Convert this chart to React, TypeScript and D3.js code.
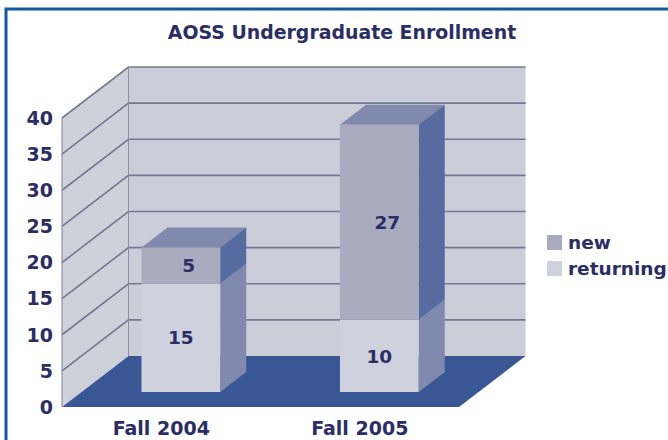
import React from "react";
import * as d3 from "d3";

const title = "AOSS Undergraduate Enrollment";
const categories = ["Fall 2004", "Fall 2005"];
const returningValues = [15, 10];
const newValues = [5, 27];
const yTicks = [0, 5, 10, 15, 20, 25, 30, 35, 40];
const legendItems = ["new", "returning"];

const FONT = "'DejaVu Sans', Verdana, sans-serif";
const INK = "#2b2d66";
const C = {
  border: "#0f5a9e",
  back: "#cbced9",
  wall: "#cfd1da",
  wallEdge: "#8d90a2",
  floor: "#3a5795",
  grid: "#74788f",
  newFront: "#a8acbe",
  newTop: "#8189ad",
  newSide: "#566b9f",
  retFront: "#cfd2dd",
  retSide: "#8189ae",
};

// Oblique projection: the floor runs from the front edge to the back wall.
const depthX = 66.5;
const depthY = 51;
const floorLeft = 62;
const floorRight = 459;
const baseY = 407;
const topY = 118;
const barDepthStart = 15 / 51;
const barDepthEnd = 35 / 51;

const y = d3.scaleLinear().domain([0, 40]).range([baseY, topY]);
const x = d3
  .scaleBand<string>()
  .domain(categories)
  .range([floorLeft, floorRight])
  .paddingInner(0.6035)
  .paddingOuter(0.30175);

// Screen position of a point given x on the front edge, a value and a depth 0..1.
const project = (px: number, value: number, depth: number): [number, number] => [
  px + depthX * depth,
  y(value) - depthY * depth,
];
const poly = (pts: [number, number][]) => pts.map((p) => p.join(",")).join(" ");

function Bar({ cat, lo, hi, front, side, top, label, labelDx }: any) {
  const x0 = x(cat)!;
  const x1 = x0 + x.bandwidth();
  const d0 = barDepthStart;
  const d1 = barDepthEnd;
  const [lx, ly] = project((x0 + x1) / 2, (lo + hi) / 2, d0);
  return (
    <g>
      {top && (
        <polygon
          fill={top}
          points={poly([project(x0, hi, d0), project(x0, hi, d1), project(x1, hi, d1), project(x1, hi, d0)])}
        />
      )}
      <polygon
        fill={side}
        points={poly([project(x1, lo, d0), project(x1, lo, d1), project(x1, hi, d1), project(x1, hi, d0)])}
      />
      <polygon
        fill={front}
        points={poly([project(x0, lo, d0), project(x1, lo, d0), project(x1, hi, d0), project(x0, hi, d0)])}
      />
      <text
        x={lx + labelDx}
        y={ly}
        dy="0.36em"
        textAnchor="middle"
        fontSize={18.5}
        fontWeight="bold"
        fill={INK}
      >
        {label}
      </text>
    </g>
  );
}

export default function App() {
  const backLeft = floorLeft + depthX;
  const backRight = floorRight + depthX;
  return (
    <svg
      width={668}
      height={440}
      viewBox="0 0 668 440"
      fontFamily={FONT}
      style={{ position: "absolute", left: 0, top: 0, background: "#ffffff" }}
    >
      {/* frame: only the top and left edges fall inside the canvas */}
      <path d="M6,440V9H668" fill="none" stroke={C.border} strokeWidth={3} />

      <text x={342} y={39} textAnchor="middle" fontSize={18.9} fontWeight="bold" fill={INK}>
        {title}
      </text>

      {/* back wall, side wall, floor */}
      <polygon
        fill={C.back}
        points={poly([
          [backLeft, y(40) - depthY],
          [backRight, y(40) - depthY],
          [backRight, y(0) - depthY],
          [backLeft, y(0) - depthY],
        ])}
      />
      <polygon
        fill={C.wall}
        points={poly([project(floorLeft, 40, 0), project(floorLeft, 40, 1), project(floorLeft, 0, 1), project(floorLeft, 0, 0)])}
      />
      <polygon
        fill={C.floor}
        points={poly([project(floorLeft, 0, 0), project(floorLeft, 0, 1), project(floorRight, 0, 1), project(floorRight, 0, 0)])}
      />

      {yTicks.map((t) => {
        const a = project(floorLeft, t, 0);
        const b = project(floorLeft, t, 1);
        const c = project(floorRight, t, 1);
        return (
          <g key={t}>
            {t > 0 && (
              <polyline
                points={poly([a, b, c])}
                fill="none"
                stroke={C.grid}
                strokeWidth={1.6}
              />
            )}
            <text
              x={53}
              y={y(t)}
              dy="0.36em"
              textAnchor="end"
              fontSize={19}
              fontWeight="bold"
              fill={INK}
            >
              {t}
            </text>
          </g>
        );
      })}
      <line x1={floorLeft} x2={floorLeft} y1={y(40)} y2={y(0)} stroke={C.wallEdge} strokeWidth={1.2} />
      <line x1={backLeft} x2={backLeft} y1={y(40) - depthY} y2={y(0) - depthY} stroke={C.wallEdge} strokeWidth={1} />

      {categories.map((cat, i) => (
        <g key={cat}>
          <Bar
            cat={cat}
            lo={0}
            hi={returningValues[i]}
            front={C.retFront}
            side={C.retSide}
            label={returningValues[i]}
            labelDx={0}
          />
          <Bar
            cat={cat}
            lo={returningValues[i]}
            hi={returningValues[i] + newValues[i]}
            front={C.newFront}
            side={C.newSide}
            top={C.newTop}
            label={newValues[i]}
            labelDx={8}
          />
          <text
            x={x(cat)! + x.bandwidth() / 2}
            y={428}
            dy="0.36em"
            textAnchor="middle"
            fontSize={19}
            fontWeight="bold"
            fill={INK}
          >
            {cat}
          </text>
        </g>
      ))}

      {legendItems.map((name, i) => (
        <g key={name} transform={`translate(547,${235 + i * 26})`}>
          <rect width={15} height={15} fill={i === 0 ? C.newFront : C.retFront} />
          <text x={21} y={7.5} dy="0.36em" fontSize={18.5} fontWeight="bold" fill={INK}>
            {name}
          </text>
        </g>
      ))}
    </svg>
  );
}
